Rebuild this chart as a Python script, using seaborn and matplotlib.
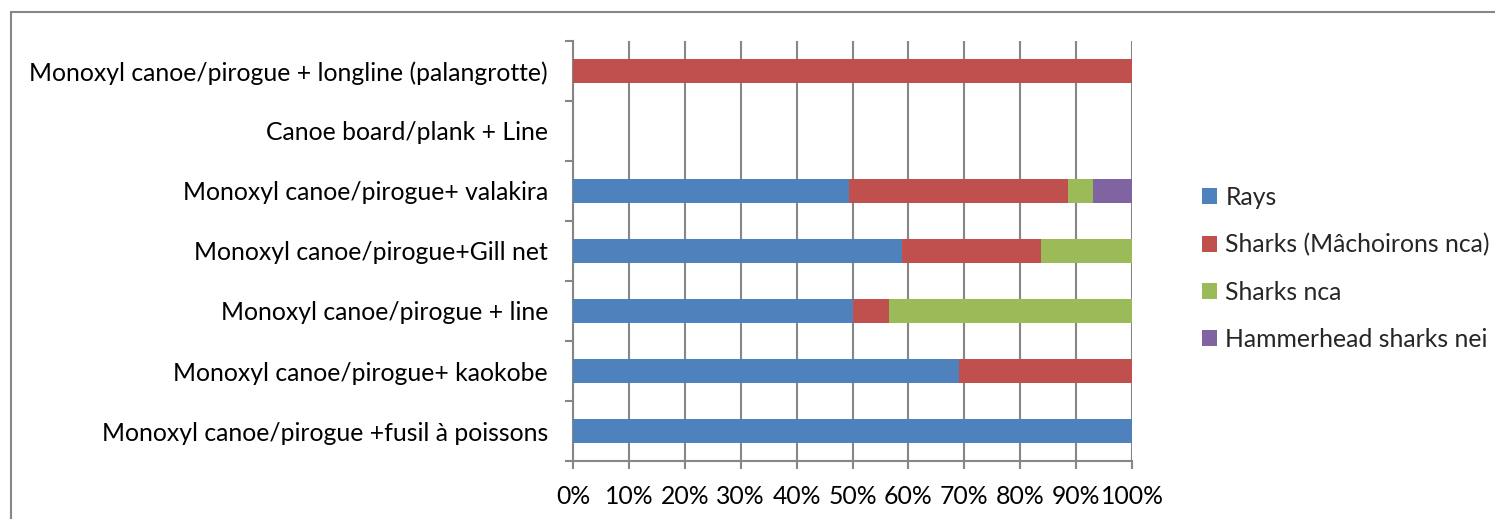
import matplotlib
matplotlib.use("Agg")
import matplotlib.pyplot as plt
from matplotlib.patches import Rectangle, Patch
from matplotlib.ticker import FixedLocator, FuncFormatter
import numpy as np
import pandas as pd
import seaborn as sns

# Gear types, listed top to bottom
categories = [
    "Monoxyl canoe/pirogue + longline (palangrotte)",
    "Canoe board/plank + Line",
    "Monoxyl canoe/pirogue+ valakira",
    "Monoxyl canoe/pirogue+Gill net",
    "Monoxyl canoe/pirogue + line",
    "Monoxyl canoe/pirogue+ kaokobe",
    "Monoxyl canoe/pirogue +fusil à poissons",
]

# Share of catch (%) per species group
rays = [0, 0, 49.4, 58.8, 50.0, 69.1, 100]
sharks_machoirons = [100, 0, 39.2, 24.9, 6.5, 30.9, 0]
sharks_nca = [0, 0, 4.5, 16.3, 43.5, 0, 0]
hammerhead = [0, 0, 6.9, 0, 0, 0, 0]

series_names = ["Rays", "Sharks (Mâchoirons nca)", "Sharks nca", "Hammerhead sharks nei"]
series_colors = ["#4F81BD", "#C0504D", "#9BBB59", "#8064A2"]
x_ticks = [0, 10, 20, 30, 40, 50, 60, 70, 80, 90, 100]

sns.set_theme(style="white")
plt.rcParams["font.family"] = ["Lato", "DejaVu Sans"]
FS = 17.8

W, H = 1495, 519
fig = plt.figure(figsize=(W / 100, H / 100), dpi=100)
ax = fig.add_axes([573 / W, 1 - 461 / H, 559 / W, 420 / H])

df = pd.DataFrame({
    "gear": categories,
    "Rays": rays,
    "Sharks (Mâchoirons nca)": sharks_machoirons,
    "Sharks nca": sharks_nca,
    "Hammerhead sharks nei": hammerhead,
})
cum = df[series_names].cumsum(axis=1).assign(gear=df["gear"])

# Stacked bars: draw the cumulative totals from the outermost segment inward
for name, color in reversed(list(zip(series_names, series_colors))):
    sns.barplot(data=cum, x=name, y="gear", order=categories,
                color=color, saturation=1, width=0.4, orient="h", ax=ax,
                zorder=3, linewidth=0)

ax.set_xlim(0, 100)
ax.set_ylim(6.5, -0.5)
ax.set_xlabel("")
ax.set_ylabel("")

grey = "#868686"
ax.xaxis.set_major_locator(FixedLocator(x_ticks))
ax.xaxis.set_major_formatter(FuncFormatter(lambda v, p: f"{int(round(v))}%"))
ax.grid(axis="x", color=grey, linewidth=1.5, zorder=0)
ax.grid(axis="y", visible=False)
ax.set_axisbelow(True)

for s in ["top", "right"]:
    ax.spines[s].set_visible(False)
for s in ["left", "bottom"]:
    ax.spines[s].set_color(grey)
    ax.spines[s].set_linewidth(1.5)

ax.tick_params(axis="x", which="major", direction="out", length=6, width=1.5,
               color=grey, labelsize=FS, pad=11, bottom=True)
ax.set_yticks(range(len(categories)))
ax.set_yticklabels(categories)
ax.yaxis.set_minor_locator(FixedLocator(np.arange(-0.5, len(categories), 1.0)))
ax.tick_params(axis="y", which="major", length=0, labelsize=FS, pad=18, left=True)
ax.tick_params(axis="y", which="minor", direction="out", length=6, width=1.5,
               color=grey, left=True)
for lbl in ax.get_xticklabels() + ax.get_yticklabels():
    lbl.set_color("black")

handles = [Patch(facecolor=c, edgecolor="none") for c in series_colors]
fig.legend(handles, series_names, loc="upper left",
           bbox_to_anchor=(1192 / W, 1 - 176 / H), frameon=False, fontsize=FS,
           handlelength=0.6, handleheight=0.6, handletextpad=0.35,
           labelspacing=0.98, borderaxespad=0)

# Outer chart border
fig.patches.append(Rectangle((10.5 / W, -0.1), 1.2, 1.1 - 11.5 / H,
                             transform=fig.transFigure, fill=False,
                             edgecolor=grey, linewidth=1.5, clip_on=False))

fig.savefig("out.png", dpi=100)
